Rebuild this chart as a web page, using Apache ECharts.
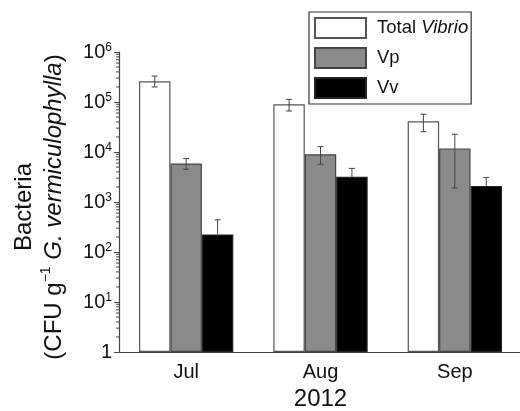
<!DOCTYPE html>
<html><head><meta charset="utf-8">
<script src="https://cdn.jsdelivr.net/npm/echarts@6/dist/echarts.min.js"></script>
<style>html,body{margin:0;padding:0;background:#fff}#c{width:520px;height:411px}</style>
</head><body><div id="c"></div>
<script>
const categories = ['Jul', 'Aug', 'Sep'];
const seriesNames = ['Total Vibrio', 'Vp', 'Vv'];
const totalVibrio = [2.6e5, 9.0e4, 4.1e4];
const totalVibrioLow = [2.0e5, 6.6e4, 2.55e4];
const totalVibrioHigh = [3.3e5, 1.13e5, 5.7e4];
const vp = [5.9e3, 9.0e3, 1.18e4];
const vpLow = [4.5e3, 5.7e3, 1.9e3];
const vpHigh = [7.4e3, 1.28e4, 2.26e4];
const vv = [225, 3.2e3, 2.1e3];
const vvLow = [225, 3.2e3, 2.1e3];
const vvHigh = [440, 4.7e3, 3.1e3];
const yTickValues = [1, 10, 100, 1000, 10000, 100000, 1000000];
const minorMultipliers = [2, 3, 4, 5, 6, 7, 8, 9];

const FONT = 'Liberation Sans, Arial, Helvetica, sans-serif';
const BAR_FRAC = 0.234;

const minorTickValues = [];
yTickValues.slice(0, -1).forEach(d => minorMultipliers.forEach(m => minorTickValues.push(d * m)));

function errSeries(name, offset, low, high, val) {
  return {
    type: 'custom', name: name + ' err', z: 5,
    data: categories.map((c, i) => [i, low[i], high[i], val[i]]),
    renderItem: function (params, api) {
      const ci = api.value(0);
      const lo = api.coord([ci, api.value(1)]);
      const hi = api.coord([ci, api.value(2)]);
      const bw = api.size([1, 0])[0] * BAR_FRAC;
      const x = lo[0] + offset * bw;
      const st = { stroke: '#444', lineWidth: 1 };
      const ch = [
        { type: 'line', shape: { x1: x, y1: lo[1], x2: x, y2: hi[1] }, style: st },
        { type: 'line', shape: { x1: x - 3, y1: hi[1], x2: x + 3, y2: hi[1] }, style: st }
      ];
      if (api.value(1) < api.value(3)) {
        ch.push({ type: 'line', shape: { x1: x - 3, y1: lo[1], x2: x + 3, y2: lo[1] }, style: st });
      }
      return { type: 'group', children: ch };
    }
  };
}

const chart = echarts.init(document.getElementById('c'));
chart.setOption({
  animation: false,
  textStyle: { fontFamily: FONT, color: '#111' },
  grid: { left: 119, top: 52, right: -2, bottom: 59, containLabel: false, outerBoundsMode: 'none' },
  legend: {
    data: seriesNames,
    left: 309, top: 12, orient: 'vertical',
    itemWidth: 51, itemHeight: 20, itemGap: 8,
    padding: [5, 3, 5, 5],
    borderColor: '#333', borderWidth: 1.2,
    icon: 'rect',
    textStyle: {
      fontFamily: FONT, fontSize: 18.5, color: '#111', padding: [0, 0, 0, 6],
      rich: { r: { fontFamily: FONT, fontSize: 18.5, color: '#111' }, i: { fontFamily: FONT, fontSize: 18.5, fontStyle: 'italic', color: '#111' } }
    },
    formatter: n => n === 'Total Vibrio' ? '{r|Total }{i|Vibrio}' : '{r|' + n + '}'
  },
  xAxis: [{
    type: 'category', data: categories,
    axisLine: { lineStyle: { color: '#444', width: 1.2 } },
    axisTick: { alignWithLabel: true, length: 5, lineStyle: { color: '#444' } },
    axisLabel: { fontSize: 20, color: '#111', margin: 10, fontFamily: FONT },
    name: '2012', nameLocation: 'middle', nameGap: 34,
    nameTextStyle: { fontSize: 24, color: '#111', fontFamily: FONT }
  }, {
    type: 'category', data: categories, position: 'bottom',
    axisLine: { show: false }, axisLabel: { show: false },
    axisTick: { length: 3, lineStyle: { color: '#444' } }
  }],
  yAxis: {
    type: 'log', logBase: 10, min: 1, max: 1e6,
    axisLine: { show: true, lineStyle: { color: '#444', width: 1.2 } },
    axisTick: { show: true, length: 5, lineStyle: { color: '#444' } },
    splitLine: { show: false },
    axisLabel: {
      margin: 7, fontFamily: FONT, color: '#111',
      formatter: v => { const e = Math.round(Math.log10(v)); return e === 0 ? '{b|1}' : '{b|10}{s|' + e + '}'; },
      rich: { b: { fontSize: 20, fontFamily: FONT, color: '#111' }, s: { fontSize: 12, fontFamily: FONT, color: '#111', verticalAlign: 'top', padding: [0, 0, 9, 0] } }
    },
    name: '{n|Bacteria}\n{n|(CFU g}{s|−1}{i| G. vermiculophylla}{n|)}',
    nameLocation: 'middle', nameRotate: 90, nameGap: 50,
    nameTextStyle: {
      padding: [0, 10, 0, 0], lineHeight: 30,
      rich: {
        n: { fontSize: 24, fontFamily: FONT, color: '#111', lineHeight: 30 },
        i: { fontSize: 24, fontFamily: FONT, fontStyle: 'italic', color: '#111', lineHeight: 30 },
        s: { fontSize: 14, fontFamily: FONT, color: '#111', verticalAlign: 'top', lineHeight: 30, padding: [0, 0, 12, 0] }
      }
    }
  },
  series: [
    { type: 'bar', name: 'Total Vibrio', data: totalVibrio, barWidth: (BAR_FRAC * 100) + '%', barGap: '0%',
      itemStyle: { color: '#ffffff', borderColor: '#555', borderWidth: 1.2 } },
    { type: 'bar', name: 'Vp', data: vp, barWidth: (BAR_FRAC * 100) + '%', barGap: '0%',
      itemStyle: { color: '#8a8a8a', borderColor: '#444', borderWidth: 1.2 } },
    { type: 'bar', name: 'Vv', data: vv, barWidth: (BAR_FRAC * 100) + '%', barGap: '0%',
      itemStyle: { color: '#000000', borderColor: '#222', borderWidth: 1.2 } },
    errSeries('Total Vibrio', -1, totalVibrioLow, totalVibrioHigh, totalVibrio),
    errSeries('Vp', 0, vpLow, vpHigh, vp),
    errSeries('Vv', 1, vvLow, vvHigh, vv),
    {
      type: 'custom', name: 'minor', clip: false, silent: true,
      data: minorTickValues.map(v => [0, v]),
      renderItem: function (params, api) {
        const p = api.coord([0, api.value(1)]);
        const x = p[0] - api.size([1, 0])[0] / 2;
        return { type: 'line', shape: { x1: x - 3, y1: p[1], x2: x, y2: p[1] }, style: { stroke: '#444', lineWidth: 1 } };
      }
    }
  ]
});
</script></body></html>
